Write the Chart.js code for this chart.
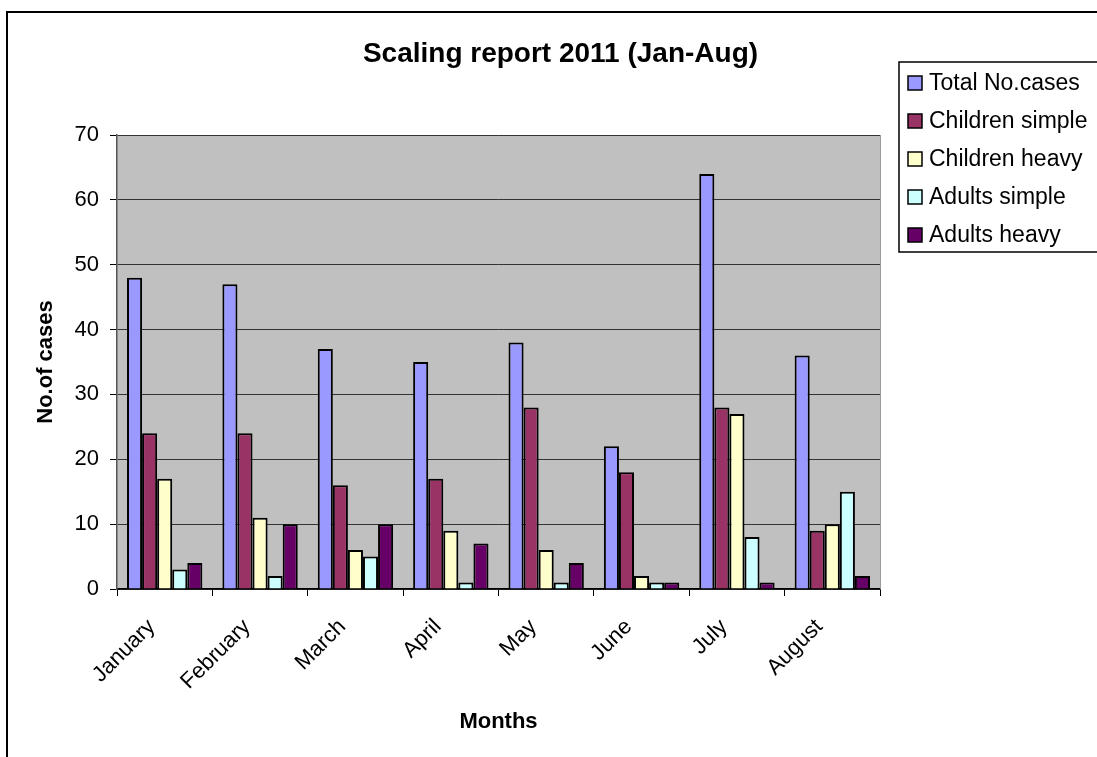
<!DOCTYPE html>
<html>
<head>
<meta charset="utf-8">
<script src="https://cdn.jsdelivr.net/npm/chart.js@4.4.0/dist/chart.umd.min.js"></script>
<style>
  body { margin: 0; background: #fff; }
</style>
</head>
<body>
<canvas id="chart" width="1097" height="757"></canvas>
<script>
const months = ['January', 'February', 'March', 'April', 'May', 'June', 'July', 'August'];
const totalCases = [48, 47, 37, 35, 38, 22, 64, 36];
const childrenSimple = [24, 24, 16, 17, 28, 18, 28, 9];
const childrenHeavy = [17, 11, 6, 9, 6, 2, 27, 10];
const adultsSimple = [3, 2, 5, 1, 1, 1, 8, 15];
const adultsHeavy = [4, 10, 10, 7, 4, 1, 1, 2];
const yMin = 0, yMax = 70, yStep = 10;

Chart.defaults.font.family = 'Arial, "Liberation Sans", sans-serif';
Chart.defaults.color = '#000';

// grey plot area, outer frame and the Excel-like legend box
const excelFrame = {
  id: 'excelFrame',
  afterLayout(chart) {
    // title is centred over the plot + legend region, not just the plot
    if (chart.titleBlock) chart.titleBlock.left = 241;
  },
  beforeDraw(chart) {
    const { ctx, chartArea: a } = chart;
    ctx.save();
    ctx.fillStyle = '#fff';
    ctx.fillRect(0, 0, chart.width, chart.height);
    ctx.fillStyle = '#c0c0c0';
    ctx.fillRect(a.left, a.top, a.right - a.left, a.bottom - a.top);
    ctx.restore();
  },
  afterDraw(chart) {
    const { ctx, chartArea: a } = chart;
    ctx.save();
    // right edge of plot area
    ctx.strokeStyle = '#9a9a9a';
    ctx.lineWidth = 1;
    ctx.beginPath();
    ctx.moveTo(a.right + 0.5, a.top);
    ctx.lineTo(a.right + 0.5, a.bottom);
    ctx.stroke();

    // outer chart border
    ctx.strokeStyle = '#000';
    ctx.lineWidth = 2;
    ctx.beginPath();
    ctx.moveTo(7, chart.height);
    ctx.lineTo(7, 12);
    ctx.lineTo(chart.width, 12);
    ctx.stroke();

    // legend
    const lx = 899, ly = 62, lh = 190;
    ctx.lineWidth = 1.5;
    ctx.strokeRect(lx, ly, chart.width + 10 - lx, lh);
    ctx.font = '23px Arial, "Liberation Sans", sans-serif';
    ctx.textBaseline = 'alphabetic';
    ctx.textAlign = 'left';
    chart.data.datasets.forEach((ds, i) => {
      const base = 90 + i * 38;
      ctx.fillStyle = ds.backgroundColor;
      ctx.fillRect(908, base - 14, 14, 14);
      ctx.lineWidth = 1.5;
      ctx.strokeStyle = '#000';
      ctx.strokeRect(908, base - 14, 14, 14);
      ctx.fillStyle = '#000';
      ctx.fillText(ds.label, 929, base);
    });
    ctx.restore();
  }
};

const barStyle = { borderColor: '#000', borderWidth: 2, categoryPercentage: 0.79, barPercentage: 1 };

new Chart(document.getElementById('chart'), {
  type: 'bar',
  data: {
    labels: months,
    datasets: [
      { label: 'Total No.cases', data: totalCases, backgroundColor: '#9999ff', ...barStyle },
      { label: 'Children simple', data: childrenSimple, backgroundColor: '#993366', ...barStyle },
      { label: 'Children heavy', data: childrenHeavy, backgroundColor: '#ffffcc', ...barStyle },
      { label: 'Adults simple', data: adultsSimple, backgroundColor: '#ccffff', ...barStyle },
      { label: 'Adults heavy', data: adultsHeavy, backgroundColor: '#660066', ...barStyle },
    ],
  },
  options: {
    responsive: false,
    animation: false,
    layout: { padding: { left: 29, right: 217, top: 0, bottom: 0 } },
    plugins: {
      legend: { display: false },
      tooltip: { enabled: false },
      title: {
        display: true,
        text: 'Scaling report 2011 (Jan-Aug)',
        font: { size: 28, weight: 'bold' },
        color: '#000',
        padding: { top: 37, bottom: 64.4 },
      },
    },
    scales: {
      x: {
        grid: { drawOnChartArea: false, drawTicks: true, tickLength: 7, color: '#000' },
        border: { color: '#000', width: 1.5 },
        ticks: { font: { size: 22 }, maxRotation: 45, minRotation: 45, padding: 18, labelOffset: -13 },
        title: { display: true, text: 'Months', font: { size: 22, weight: 'bold' }, padding: { top: 0, bottom: 22 } },
        afterFit(scale) { scale.height = 168; },
      },
      y: {
        min: yMin,
        max: yMax,
        ticks: { stepSize: yStep, font: { size: 22 }, padding: 11 },
        grid: { color: '#333', tickColor: '#000', tickLength: 7, lineWidth: 1 },
        border: { color: '#555', width: 1.5 },
        title: { display: true, text: 'No.of cases', font: { size: 22, weight: 'bold' }, padding: { top: 4, bottom: 0 } },
        afterFit(scale) { scale.width = 88; },
      },
    },
  },
  plugins: [excelFrame],
});
</script>
</body>
</html>
